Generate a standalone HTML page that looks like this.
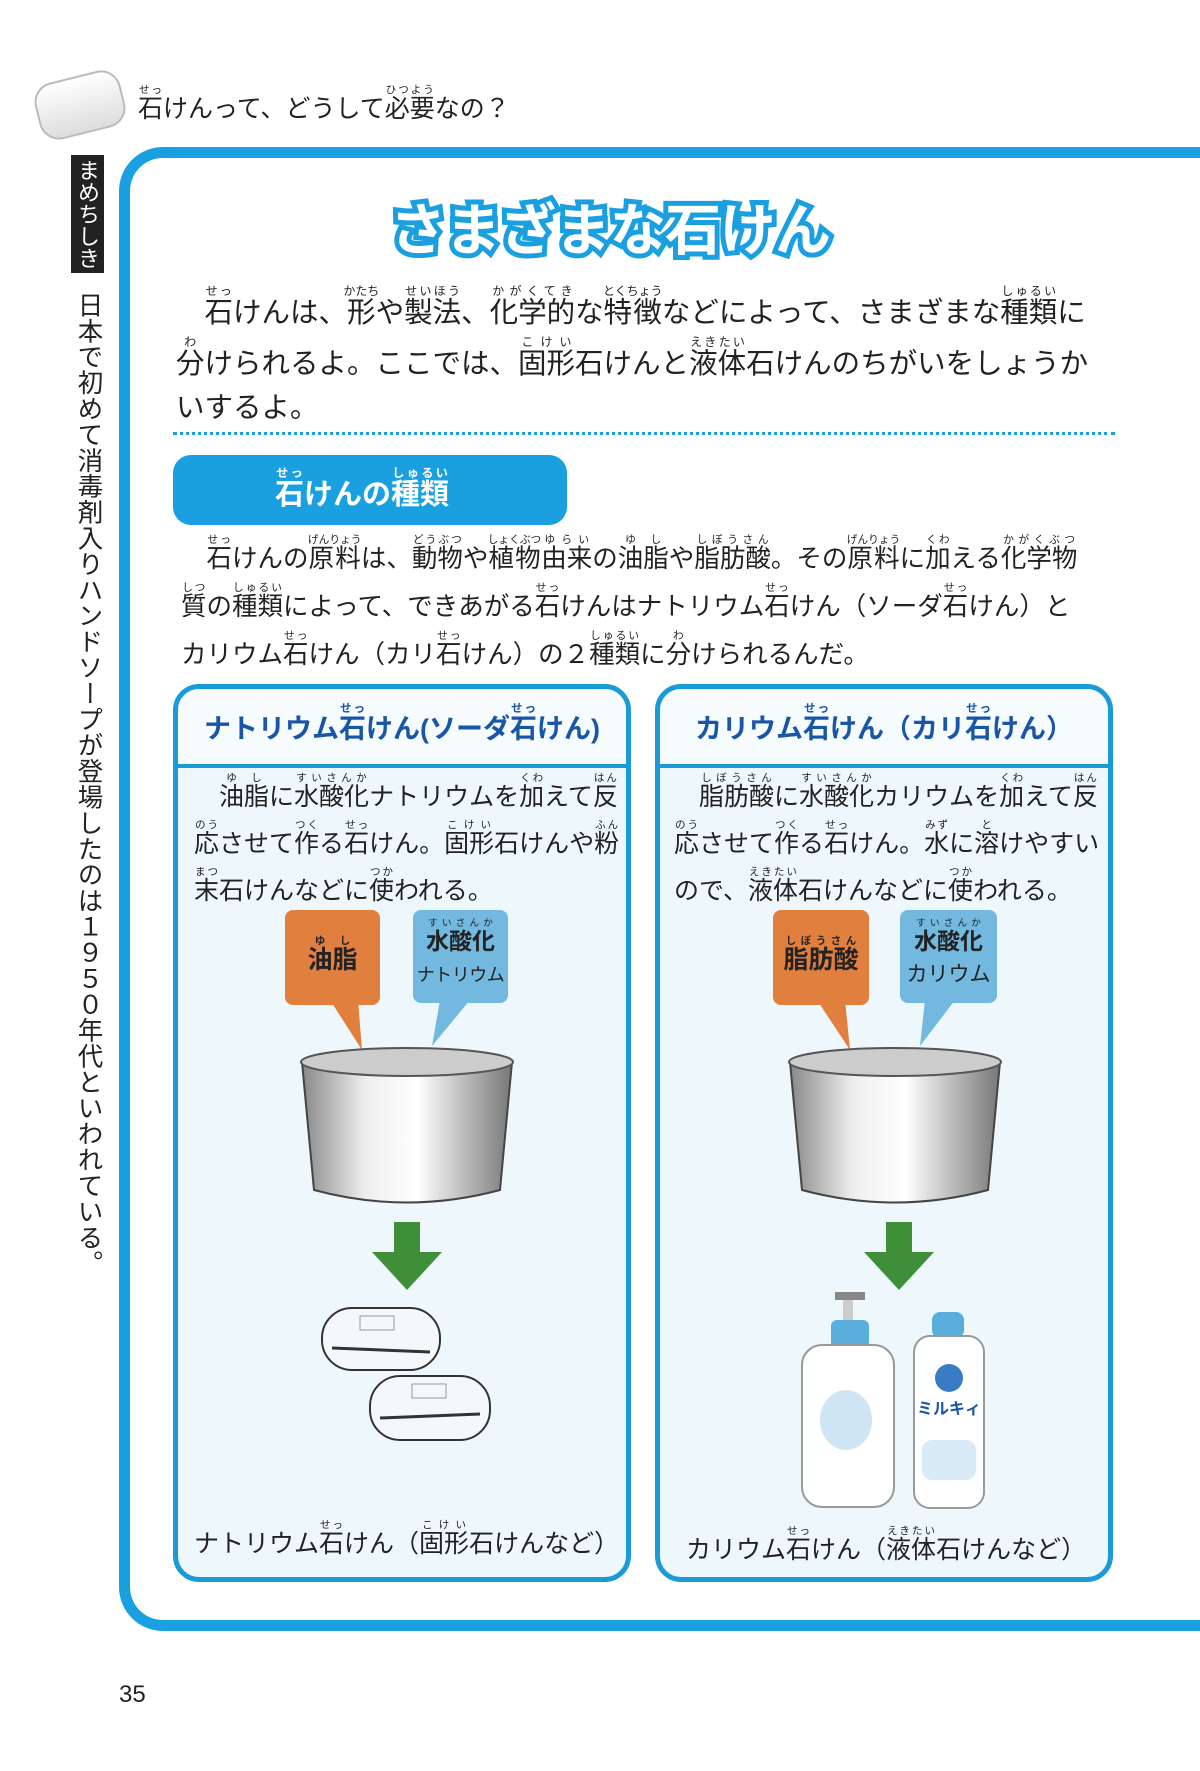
<!DOCTYPE html>
<html><head><meta charset="utf-8">
<style>
*{margin:0;padding:0;box-sizing:border-box}
body{width:1200px;height:1771px;background:#fff;position:relative;overflow:hidden;font-family:"Liberation Sans","Noto Sans CJK JP",sans-serif;color:#222}
.a{position:absolute;white-space:nowrap}
rt{font-size:0.42em;line-height:1;}
ruby{ruby-position:over}
.frame{position:absolute;left:119px;top:147px;width:1200px;height:1484px;border:11px solid #1aa0e0;border-right:none;border-radius:44px 0 0 44px}
.card{position:absolute;top:684px;width:458px;height:898px;border:5px solid #1a9ad6;border-radius:26px;background:#eef7fc;overflow:hidden}
.card .hd{height:79px;border-bottom:4px solid #1a9ad6;background:#f6fbfe;color:#1a56a8;font-weight:bold;font-size:27px;text-align:center;padding-top:18px;white-space:nowrap}
.body{font-size:25px;line-height:44px}
</style></head><body>
<div class="a" style="left:36px;top:76px;width:88px;height:58px;border-radius:20px;background:linear-gradient(#fff,#ddd);border:2px solid #bbb;transform:rotate(-14deg)"></div>
<div class="a" style="left:138px;top:84px;font-size:25px;line-height:44px"><ruby>石<rt>せっ</rt></ruby>けんって、どうして<ruby>必要<rt>ひつよう</rt></ruby>なの？</div>

<div class="frame"></div>
<div class="a" style="left:71px;top:155px;width:33px;height:118px;background:#222;color:#fff;font-size:22px;writing-mode:vertical-rl;line-height:33px;padding-top:4px">まめちしき</div>
<div class="a" style="left:73px;top:292px;font-size:25.5px;writing-mode:vertical-rl;line-height:30px;letter-spacing:0.4px">日本で初めて消毒剤入りハンドソープが登場したのは１９５０年代といわれている。</div>

<div class="a" style="left:390px;top:186px;font-size:56px;font-weight:bold;color:#fff;-webkit-text-stroke:10px #1aa0e0;paint-order:stroke fill;letter-spacing:-1px">さまざまな石けん</div>

<div class="a" style="left:176px;top:284px;font-size:28.5px;line-height:44px;width:940px;white-space:normal">
<div>　<ruby>石<rt>せっ</rt></ruby>けんは、<ruby>形<rt>かたち</rt></ruby>や<ruby>製法<rt>せいほう</rt></ruby>、<ruby>化学的<rt>かがくてき</rt></ruby>な<ruby>特徴<rt>とくちょう</rt></ruby>などによって、さまざまな<ruby>種類<rt>しゅるい</rt></ruby>に</div>
<div><ruby>分<rt>わ</rt></ruby>けられるよ。ここでは、<ruby>固形<rt>こけい</rt></ruby>石けんと<ruby>液体<rt>えきたい</rt></ruby>石けんのちがいをしょうか</div>
<div>いするよ。</div>
</div>

<div class="a" style="left:173px;top:432px;width:942px;border-top:3px dotted #1aa0e0"></div>

<div class="a" style="left:173px;top:455px;width:394px;height:70px;background:#1aa0e0;border-radius:18px"></div>
<div class="a" style="left:275px;top:466px;font-size:29px;font-weight:bold;color:#fff"><ruby>石<rt>せっ</rt></ruby>けんの<ruby>種類<rt>しゅるい</rt></ruby></div>

<div class="a" style="left:181px;top:534px;font-size:25.5px;line-height:46px">
<div>　<ruby>石<rt>せっ</rt></ruby>けんの<ruby>原料<rt>げんりょう</rt></ruby>は、<ruby>動物<rt>どうぶつ</rt></ruby>や<ruby>植物<rt>しょくぶつ</rt></ruby><ruby>由来<rt>ゆらい</rt></ruby>の<ruby>油脂<rt>ゆし</rt></ruby>や<ruby>脂肪酸<rt>しぼうさん</rt></ruby>。その<ruby>原料<rt>げんりょう</rt></ruby>に<ruby>加<rt>くわ</rt></ruby>える<ruby>化学物<rt>かがくぶつ</rt></ruby></div>
<div><ruby>質<rt>しつ</rt></ruby>の<ruby>種類<rt>しゅるい</rt></ruby>によって、できあがる<ruby>石<rt>せっ</rt></ruby>けんはナトリウム<ruby>石<rt>せっ</rt></ruby>けん（ソーダ<ruby>石<rt>せっ</rt></ruby>けん）と</div>
<div>カリウム<ruby>石<rt>せっ</rt></ruby>けん（カリ<ruby>石<rt>せっ</rt></ruby>けん）の２<ruby>種類<rt>しゅるい</rt></ruby>に<ruby>分<rt>わ</rt></ruby>けられるんだ。</div>
</div>

<div class="card" style="left:173px">
<div class="hd">ナトリウム<ruby>石<rt>せっ</rt></ruby>けん(ソーダ<ruby>石<rt>せっ</rt></ruby>けん)</div>
<div class="body" style="padding:4px 0 0 16px">
<div>　<ruby>油脂<rt>ゆし</rt></ruby>に<ruby>水酸化<rt>すいさんか</rt></ruby>ナトリウムを<ruby>加<rt>くわ</rt></ruby>えて<ruby>反<rt>はん</rt></ruby></div>
<div><ruby>応<rt>のう</rt></ruby>させて<ruby>作<rt>つく</rt></ruby>る<ruby>石<rt>せっ</rt></ruby>けん。<ruby>固形<rt>こけい</rt></ruby>石けんや<ruby>粉<rt>ふん</rt></ruby></div>
<div><ruby>末<rt>まつ</rt></ruby>石けんなどに<ruby>使<rt>つか</rt></ruby>われる。</div>
</div>
<div class="a" style="left:16px;top:830px;font-size:25px">ナトリウム<ruby>石<rt>せっ</rt></ruby>けん（<ruby>固形<rt>こけい</rt></ruby>石けんなど）</div>
</div>

<div class="card" style="left:655px">
<div class="hd">カリウム<ruby>石<rt>せっ</rt></ruby>けん（カリ<ruby>石<rt>せっ</rt></ruby>けん）</div>
<div class="body" style="padding:4px 0 0 14px">
<div>　<ruby>脂肪酸<rt>しぼうさん</rt></ruby>に<ruby>水酸化<rt>すいさんか</rt></ruby>カリウムを<ruby>加<rt>くわ</rt></ruby>えて<ruby>反<rt>はん</rt></ruby></div>
<div><ruby>応<rt>のう</rt></ruby>させて<ruby>作<rt>つく</rt></ruby>る<ruby>石<rt>せっ</rt></ruby>けん。<ruby>水<rt>みず</rt></ruby>に<ruby>溶<rt>と</rt></ruby>けやすい</div>
<div>ので、<ruby>液体<rt>えきたい</rt></ruby>石けんなどに<ruby>使<rt>つか</rt></ruby>われる。</div>
</div>
<div class="a" style="left:26px;top:836px;font-size:25px">カリウム<ruby>石<rt>せっ</rt></ruby>けん（<ruby>液体<rt>えきたい</rt></ruby>石けんなど）</div>
</div>

<svg class="a" style="left:0;top:0" width="1200" height="1771">
<defs>
<linearGradient id="pot" x1="0" x2="1"><stop offset="0" stop-color="#888"/><stop offset="0.3" stop-color="#eee"/><stop offset="0.55" stop-color="#fff"/><stop offset="1" stop-color="#777"/></linearGradient>
</defs>
<polygon points="330,1000 358,1000 362,1050" fill="#e07f3e"/>
<polygon points="440,1000 470,1000 432,1046" fill="#72b8df"/>
<polygon points="817,1000 845,1000 850,1050" fill="#e07f3e"/>
<polygon points="925,1000 955,1000 920,1046" fill="#72b8df"/>
<path d="M302,1062 L314,1190 Q407,1215 500,1190 L512,1062 Z" fill="url(#pot)" stroke="#444" stroke-width="2"/>
<ellipse cx="407" cy="1062" rx="106" ry="14" fill="#ccc" stroke="#555" stroke-width="2"/>
<path d="M790,1062 L802,1190 Q895,1215 988,1190 L1000,1062 Z" fill="url(#pot)" stroke="#444" stroke-width="2"/>
<ellipse cx="895" cy="1062" rx="106" ry="14" fill="#ccc" stroke="#555" stroke-width="2"/>
<polygon points="394,1222 420,1222 420,1252 442,1252 407,1290 372,1252 394,1252" fill="#3f8f3a"/>
<polygon points="886,1222 912,1222 912,1252 934,1252 899,1290 864,1252 886,1252" fill="#3f8f3a"/>
<g stroke="#333" stroke-width="2" fill="#f4f8fb">
<rect x="322" y="1308" width="118" height="62" rx="30"/>
<rect x="370" y="1376" width="120" height="64" rx="30"/>
</g>
<line x1="332" y1="1348" x2="430" y2="1352" stroke="#333" stroke-width="3"/>
<line x1="380" y1="1418" x2="480" y2="1414" stroke="#333" stroke-width="3"/>
<rect x="360" y="1316" width="34" height="14" fill="none" stroke="#999"/>
<rect x="412" y="1384" width="34" height="14" fill="none" stroke="#999"/>
<rect x="835" y="1292" width="30" height="8" fill="#888"/>
<rect x="843" y="1300" width="10" height="20" fill="#ccc"/>
<rect x="831" y="1320" width="38" height="28" rx="6" fill="#5aaedc"/>
<rect x="802" y="1345" width="92" height="162" rx="20" fill="#fff" stroke="#999" stroke-width="2"/>
<ellipse cx="846" cy="1420" rx="26" ry="30" fill="#cfe5f4"/>
<rect x="932" y="1312" width="32" height="26" rx="8" fill="#5aaedc"/>
<rect x="914" y="1336" width="70" height="172" rx="16" fill="#fff" stroke="#999" stroke-width="2"/>
<circle cx="949" cy="1378" r="14" fill="#3a7cc4"/>
<text x="949" y="1414" font-size="16" font-weight="bold" fill="#1a56a8" text-anchor="middle" font-family="Liberation Sans,Noto Sans CJK JP,sans-serif">ミルキィ</text>
<rect x="922" y="1440" width="54" height="40" rx="10" fill="#d8ebf7"/>
</svg>

<div class="a" style="left:285px;top:910px;width:95px;height:95px;background:#e07f3e;border-radius:8px"></div>
<div class="a" style="left:285px;top:935px;width:95px;text-align:center;font-size:25px;font-weight:bold"><ruby>油脂<rt>ゆし</rt></ruby></div>
<div class="a" style="left:413px;top:910px;width:95px;height:93px;background:#72b8df;border-radius:8px"></div>
<div class="a" style="left:413px;top:918px;width:95px;text-align:center;font-size:23px;line-height:32px"><ruby><b>水酸化</b><rt>すいさんか</rt></ruby><br><span style="font-size:18px;letter-spacing:-0.5px">ナトリウム</span></div>

<div class="a" style="left:773px;top:910px;width:96px;height:95px;background:#e07f3e;border-radius:8px"></div>
<div class="a" style="left:773px;top:935px;width:96px;text-align:center;font-size:25px;font-weight:bold"><ruby>脂肪酸<rt>しぼうさん</rt></ruby></div>
<div class="a" style="left:900px;top:910px;width:97px;height:93px;background:#72b8df;border-radius:8px"></div>
<div class="a" style="left:900px;top:918px;width:97px;text-align:center;font-size:23px;line-height:32px"><ruby><b>水酸化</b><rt>すいさんか</rt></ruby><br><span style="font-size:21px">カリウム</span></div>

<div class="a" style="left:119px;top:1681px;font-size:24px">35</div>
</body></html>
